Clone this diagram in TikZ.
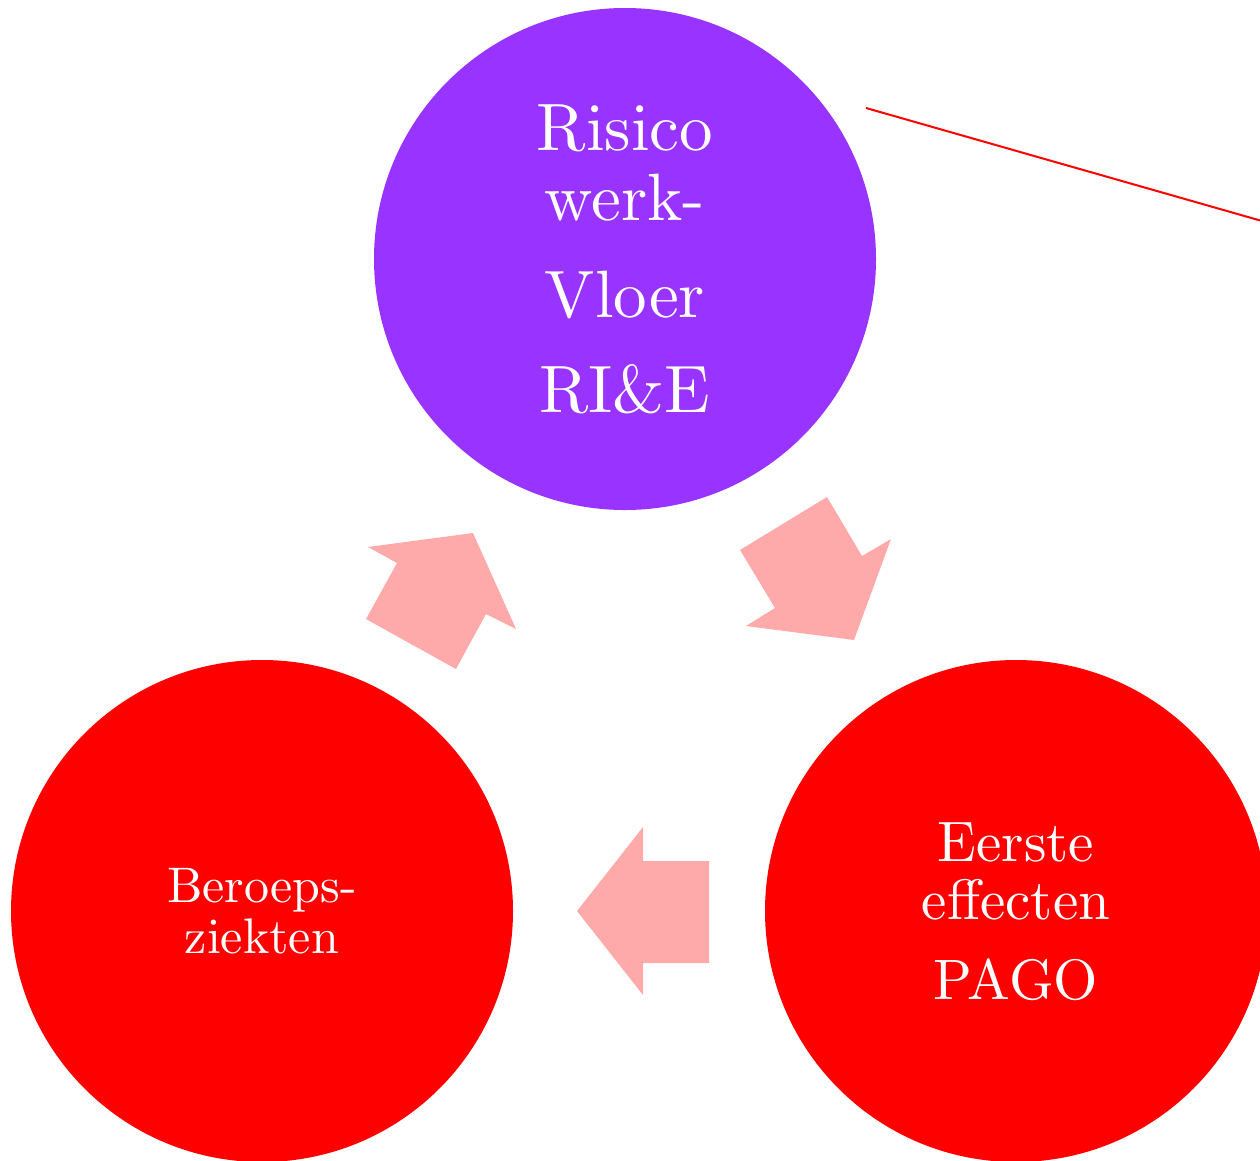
\documentclass[tikz,border=0pt]{standalone}
\definecolor{cpurple}{HTML}{9933FF}
\definecolor{cred}{HTML}{FF0000}
\definecolor{cpink}{HTML}{FFAAAA}
\font\topfont=cmr10 at 67pt
\font\rightfont=cmr10 at 57pt
\font\leftfont=cmr10 at 50pt
\begin{document}
\begin{tikzpicture}[x=1pt,y=-1pt,
  bubble/.style={circle,inner sep=0pt,minimum size=502pt,text=white,align=center},
  blockarrow/.style={fill=cpink,draw=none},
  link/.style={draw=cred,line width=2pt}]
\useasboundingbox (0,0) rectangle (1260,1160);
\node[bubble,fill=cpurple,font={\topfont\baselineskip=70pt}] (risico) at (625,259)
  {Risico\\werk-\\[27pt]Vloer\\[25pt]RI\&E};
\node[bubble,fill=cred,font={\rightfont\baselineskip=58pt}] (eerste) at (1016,911)
  {Eerste\\effecten\\[22pt]PAGO};
\node[bubble,fill=cred,font={\leftfont\baselineskip=51pt}] (beroeps) at (262,911)
  {Beroeps-\\ziekten};
% block arrows
\fill[blockarrow] (473,533) -- (516,629) -- (486,614) -- (456,669) -- (366,619) -- (397,563) -- (368,547) -- cycle;
\fill[blockarrow] (827,497) -- (862,556) -- (891,539) -- (854,640) -- (746,626) -- (775,608) -- (740,550) -- cycle;
\fill[blockarrow] (577,911) -- (643,827) -- (643,861) -- (709,861) -- (709,963) -- (643,963) -- (643,995) -- cycle;
% red line
\coordinate (lineA) at (866,108);
\coordinate (lineB) at (1262,221);
\draw[link] (lineA) -- (lineB);
\end{tikzpicture}
\end{document}
